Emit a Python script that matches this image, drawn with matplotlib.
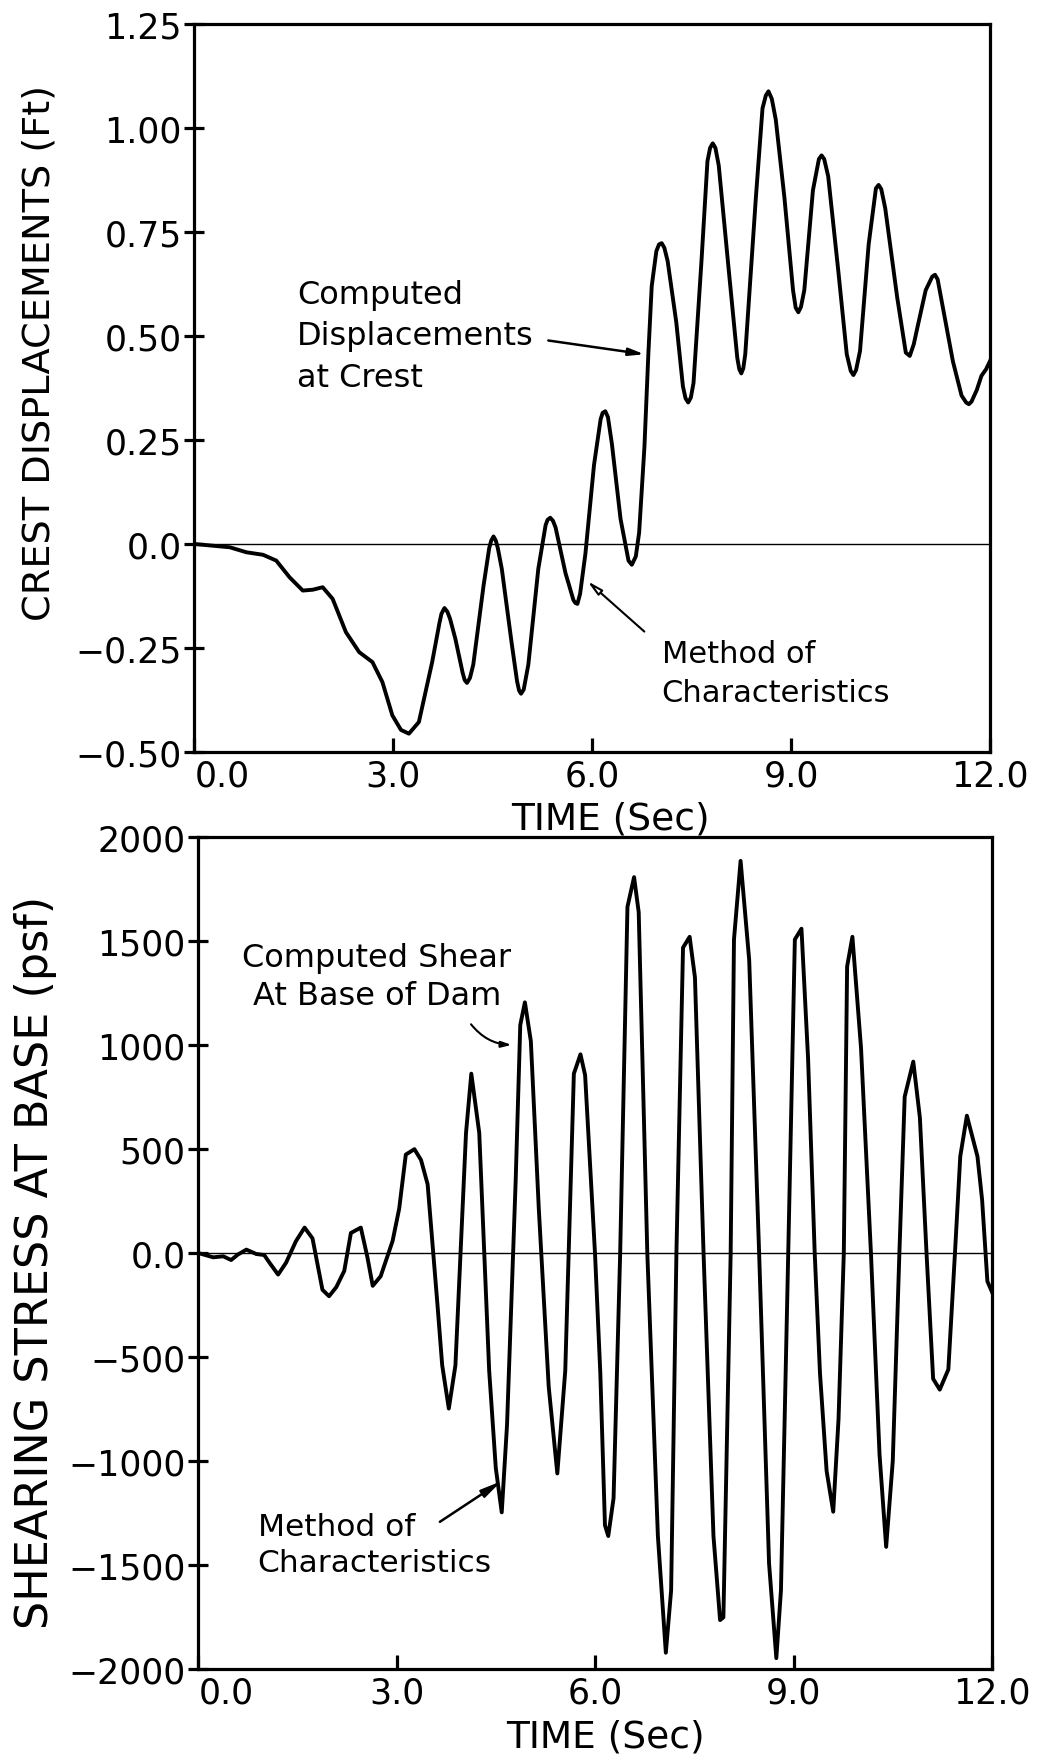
import matplotlib
matplotlib.use("Agg")
import matplotlib.pyplot as plt
from matplotlib.transforms import ScaledTranslation

plt.rcParams['font.family'] = ['DejaVu Sans']

# crest displacement record (time in sec, displacement in ft)
disp_time = [0, 0.54, 0.79, 1.04, 1.24, 1.44, 1.64, 1.79, 1.94, 2.09,
             2.29, 2.49, 2.69, 2.84, 2.99, 3.12, 3.24, 3.39, 3.59, 3.70,
             3.73, 3.775, 3.82, 3.86, 3.94, 4.05, 4.08, 4.115, 4.16, 4.21,
             4.365, 4.45, 4.48, 4.515, 4.55, 4.58, 4.64, 4.79, 4.87, 4.90,
             4.93, 4.97, 5.04, 5.19, 5.30, 5.33, 5.37, 5.41, 5.45, 5.60,
             5.72, 5.75, 5.78, 5.82, 5.90, 6.03, 6.13, 6.16, 6.20, 6.24,
             6.30, 6.43, 6.55, 6.60, 6.66, 6.71, 6.79, 6.85, 6.90, 6.97,
             7.01, 7.05, 7.09, 7.14, 7.27, 7.37, 7.41, 7.45, 7.49, 7.53,
             7.65, 7.74, 7.78, 7.82, 7.86, 7.91, 8.06, 8.19, 8.22, 8.25,
             8.28, 8.31, 8.47, 8.57, 8.62, 8.66, 8.71, 8.77, 8.90, 9.03,
             9.07, 9.11, 9.15, 9.20, 9.33, 9.42, 9.46, 9.50, 9.56, 9.71,
             9.84, 9.90, 9.94, 9.98, 10.04, 10.17, 10.28, 10.32, 10.36, 10.42,
             10.60, 10.73, 10.79, 10.85, 10.91, 11.03, 11.13, 11.17, 11.21, 11.26,
             11.44, 11.57, 11.64, 11.68, 11.72, 11.80, 11.87, 11.94, 12.0]
disp_ft = [0, -0.008, -0.02, -0.026, -0.04, -0.08, -0.112, -0.11, -0.104, -0.132,
           -0.212, -0.26, -0.284, -0.332, -0.412, -0.447, -0.456, -0.428, -0.284, -0.19,
           -0.168, -0.154, -0.163, -0.18, -0.228, -0.31, -0.327, -0.334, -0.322, -0.29,
           -0.10, -0.01, 0.008, 0.018, 0.008, -0.01, -0.06, -0.24, -0.33, -0.352,
           -0.36, -0.35, -0.29, -0.06, 0.045, 0.058, 0.063, 0.056, 0.04, -0.07,
           -0.135, -0.142, -0.144, -0.12, -0.024, 0.19, 0.30, 0.315, 0.319, 0.305,
           0.24, 0.06, -0.04, -0.05, -0.03, 0.027, 0.233, 0.46, 0.62, 0.704,
           0.72, 0.723, 0.712, 0.68, 0.533, 0.379, 0.35, 0.34, 0.352, 0.387,
           0.68, 0.92, 0.952, 0.963, 0.952, 0.91, 0.66, 0.447, 0.42, 0.41,
           0.422, 0.456, 0.833, 1.047, 1.078, 1.088, 1.07, 1.02, 0.833, 0.61,
           0.568, 0.557, 0.57, 0.61, 0.85, 0.925, 0.934, 0.925, 0.884, 0.66,
           0.456, 0.416, 0.406, 0.418, 0.464, 0.72, 0.855, 0.863, 0.853, 0.807,
           0.593, 0.46, 0.452, 0.48, 0.524, 0.61, 0.643, 0.647, 0.636, 0.593,
           0.439, 0.357, 0.34, 0.336, 0.342, 0.37, 0.404, 0.42, 0.44]

# shearing stress at base record (time in sec, stress in psf)
shear_time = [0, 0.23, 0.38, 0.50, 0.60, 0.73, 0.88, 1.00, 1.08, 1.21, 1.33, 1.48,
              1.61, 1.73, 1.88, 1.98, 2.09, 2.21, 2.31, 2.46, 2.56, 2.64, 2.76,
              2.94, 3.04, 3.14, 3.27, 3.37, 3.47, 3.54, 3.62, 3.69, 3.79, 3.89,
              4.05, 4.13, 4.25, 4.40, 4.50, 4.59, 4.67, 4.80, 4.87, 4.94, 5.03,
              5.15, 5.30, 5.43, 5.55, 5.68, 5.78, 5.85, 6.00, 6.08, 6.15, 6.20,
              6.28, 6.38, 6.49, 6.59, 6.66, 6.79, 6.95, 7.07, 7.15, 7.23, 7.33,
              7.43, 7.51, 7.64, 7.79, 7.89, 7.94, 8.05, 8.10, 8.20, 8.33, 8.48,
              8.63, 8.74, 8.81, 8.92, 9.02, 9.12, 9.22, 9.32, 9.40, 9.50, 9.60,
              9.68, 9.76, 9.81, 9.89, 10.02, 10.17, 10.30, 10.40, 10.50, 10.60,
              10.68, 10.81, 10.91, 11.01, 11.11, 11.21, 11.34, 11.44, 11.52,
              11.62, 11.78, 11.85, 11.93, 12.0]
shear_psf = [0, -21, -16, -34, -8, 16, -5, -10, -47, -104, -47, 57, 122, 70,
             -177, -208, -164, -86, 96, 122, -21, -158, -112, 57, 213, 473, 499,
             447, 330, 57, -255, -540, -748, -540, 577, 862, 577, -566, -1034,
             -1247, -826, 343, 1096, 1205, 1018, 213, -644, -1060, -566, 862,
             955, 855, -5, -579, -1309, -1361, -1179, 0, 1664, 1807, 1638, 0,
             -1361, -1922, -1622, 0, 1468, 1520, 1325, 0, -1361, -1765, -1752, 0,
             1507, 1885, 1408, 0, -1492, -1948, -1622, 0, 1507, 1559, 934, 0,
             -579, -1048, -1244, -800, 0, 1377, 1520, 986, 0, -970, -1413, -1000,
             0, 751, 920, 650, 0, -605, -657, -560, 0, 464, 660, 464, 256, -136,
             -188]

time_ticks = [0, 3, 6, 9, 12]
time_labels = ['0.0', '3.0', '6.0', '9.0', '12.0']
disp_ticks = [-0.5, -0.25, 0, 0.25, 0.5, 0.75, 1.0, 1.25]
disp_labels = ['\u22120.50', '\u22120.25', '0.0', '0.25', '0.50', '0.75', '1.00', '1.25']
shear_ticks = [-2000, -1500, -1000, -500, 0, 500, 1000, 1500, 2000]
shear_labels = ['\u22122000', '\u22121500', '\u22121000', '\u2212500', '0.0',
                '500', '1000', '1500', '2000']

fig = plt.figure(figsize=(10.38, 17.56), dpi=100)
ax1 = fig.add_axes([0.1869, 0.5712, 0.7669, 0.4146])
ax2 = fig.add_axes([0.1908, 0.0490, 0.7649, 0.4738])


def style_axes(ax, yticks, ylabels, ylabel, ysize):
    ax.set_xlim(0, 12)
    ax.set_ylim(yticks[0], yticks[-1])
    for s in ax.spines.values():
        s.set_linewidth(2.3)
    ax.axhline(0, color='black', lw=1.0, zorder=1)
    ax.set_xticks(time_ticks)
    ax.set_xticklabels(time_labels)
    ax.set_yticks(yticks)
    ax.set_yticklabels(ylabels)
    ax.tick_params(axis='x', direction='in', length=10, width=2.3, pad=5, labelsize=25)
    ax.tick_params(axis='y', direction='inout', length=14, width=2.3, pad=2, labelsize=25)
    # first time label sits clear of the corner
    lbl = ax.get_xticklabels()[0]
    lbl.set_transform(lbl.get_transform() + ScaledTranslation(0.28, 0, fig.dpi_scale_trans))
    ax.set_ylabel(ylabel, fontsize=ysize)
    ax.set_xlabel('TIME (Sec)', fontsize=27)


style_axes(ax1, disp_ticks, disp_labels, 'CREST DISPLACEMENTS (Ft)', 27.5)
ax1.yaxis.set_label_coords(-0.172, 0.55)
ax1.xaxis.set_label_coords(0.523, -0.066)
style_axes(ax2, shear_ticks, shear_labels, 'SHEARING STRESS AT BASE (psf)', 32)
ax2.yaxis.set_label_coords(-0.178, 0.49)
ax2.xaxis.set_label_coords(0.513, -0.060)

ax1.plot(disp_time, disp_ft, color='black', lw=2.8, solid_joinstyle='round', zorder=3)
ax2.plot(shear_time, shear_psf, color='black', lw=2.8, solid_joinstyle='round', zorder=3)

# annotations on the displacement plot
ax1.text(1.55, 0.50, 'Computed\nDisplacements\nat Crest', fontsize=23,
         ha='left', va='center', linespacing=1.45)
ax1.annotate('', xy=(6.83, 0.455), xytext=(5.3, 0.49),
             arrowprops=dict(arrowstyle='-|>,head_length=0.9,head_width=0.22',
                             color='black', lw=1.8))
ax1.text(7.05, -0.31, 'Method of\nCharacteristics', fontsize=22,
         ha='left', va='center', linespacing=1.4)
ax1.annotate('', xy=(5.9, -0.085), xytext=(6.82, -0.215),
             arrowprops=dict(arrowstyle='-|>,head_length=0.9,head_width=0.2',
                             color='black', lw=1.5, fc='white'))

# annotations on the shear plot
ax2.text(2.7, 1330, 'Computed Shear\nAt Base of Dam', fontsize=23,
         ha='center', va='center', linespacing=1.3)
ax2.annotate('', xy=(4.78, 1000), xytext=(4.1, 1110),
             arrowprops=dict(arrowstyle='-|>,head_length=0.6,head_width=0.18',
                             color='black', lw=1.5,
                             connectionstyle='arc3,rad=0.25'))
ax2.text(0.9, -1400, 'Method of\nCharacteristics', fontsize=22.5,
         ha='left', va='center', linespacing=1.3)
ax2.annotate('', xy=(4.62, -1090), xytext=(3.62, -1300),
             arrowprops=dict(arrowstyle='-|>,head_length=1.2,head_width=0.25',
                             color='black', lw=1.8))

fig.savefig('out.png', dpi=100, facecolor='white')
